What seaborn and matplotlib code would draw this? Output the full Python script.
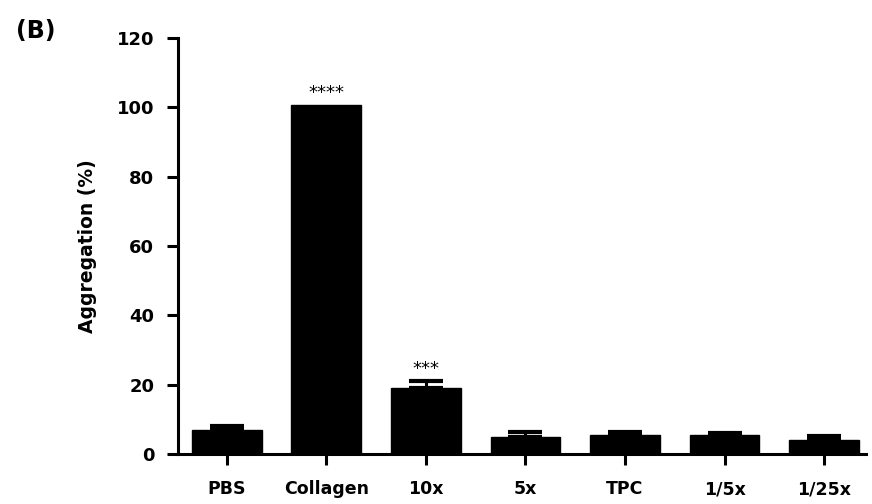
import matplotlib
matplotlib.use("Agg")
import matplotlib.pyplot as plt
import seaborn as sns
import pandas as pd

categories = ["PBS", "Collagen", "10x", "5x", "TPC", "1/5x", "1/25x"]
values = [6.9, 100.6, 19.0, 4.8, 5.5, 5.5, 4.0]
errors = [1.2, 0.0, 2.0, 1.6, 0.9, 0.7, 1.3]
stars = ["", "****", "***", "", "", "", ""]
yticks = [0, 20, 40, 60, 80, 100, 120]

sns.set_style("ticks")
plt.rcParams['font.family'] = ['DejaVu Sans']
plt.rcParams['text.color'] = 'black'
plt.rcParams['axes.labelcolor'] = 'black'
plt.rcParams['xtick.color'] = 'black'
plt.rcParams['ytick.color'] = 'black'

df = pd.DataFrame({"group": categories, "value": values})

fig = plt.figure(figsize=(8.72, 5.04), dpi=100)
ax = fig.add_axes([0.204, 0.099, 0.789, 0.826])

sns.barplot(data=df, x="group", y="value", color="black", width=0.7,
            saturation=1, errorbar=None, ax=ax, edgecolor="black")

idx = [i for i, e in enumerate(errors) if e > 0]
ax.errorbar(idx, [values[i] for i in idx],
            yerr=[[0] * len(idx), [errors[i] for i in idx]],
            fmt="none", ecolor="black", elinewidth=2.2, capsize=12, capthick=3)

for i, (v, e, s) in enumerate(zip(values, errors, stars)):
    if s:
        ax.text(i, v + e + 0.9, s, ha="center", va="bottom", fontsize=13,
                color="black")

ax.set_xlim(-0.49, 6.42)
ax.set_ylim(0, 120)
ax.set_yticks(yticks)
ax.set_yticklabels([str(t) for t in yticks], fontsize=13, fontweight="bold")
ax.set_xticks(range(len(categories)))
ax.set_xticklabels(categories, fontsize=12.5, fontweight="bold")
ax.set_xlabel("")
ax.set_ylabel("Aggregation (%)", fontsize=13.5, fontweight="bold", labelpad=14)

for side in ["top", "right"]:
    ax.spines[side].set_visible(False)
for side in ["left", "bottom"]:
    ax.spines[side].set_linewidth(2.2)
    ax.spines[side].set_color("black")
ax.tick_params(axis="both", width=2.2, length=8, direction="out")
ax.tick_params(axis="y", pad=9)
ax.tick_params(axis="x", pad=11)

fig.text(0.018, 0.962, "(B)", fontsize=17, fontweight="bold", va="top")

fig.savefig("out.png", dpi=100)
